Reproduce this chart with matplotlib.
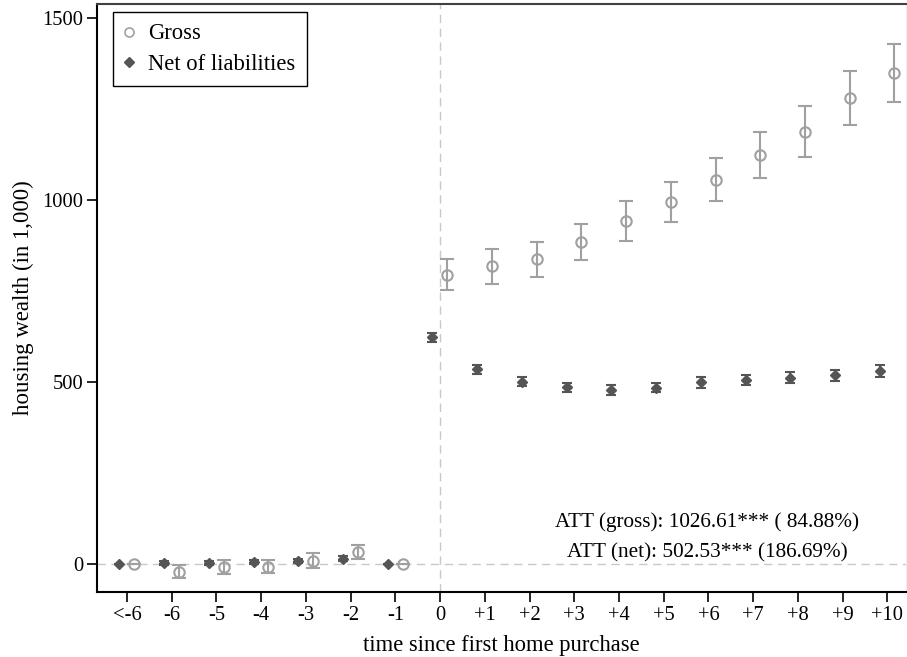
import matplotlib
matplotlib.use("Agg")
import matplotlib.pyplot as plt
from matplotlib.lines import Line2D
import numpy as np

# event time: -7 stands for "<-6"
periods = [-7, -6, -5, -4, -3, -2, -1, 0, 1, 2, 3, 4, 5, 6, 7, 8, 9, 10]
tick_labels = ["<-6", "-6", "-5", "-4", "-3", "-2", "-1", "0",
               "+1", "+2", "+3", "+4", "+5", "+6", "+7", "+8", "+9", "+10"]

gross = [0, -21, -8, -7, 9, 33, 0, 795, 818, 838, 886, 942, 995, 1056, 1124, 1189, 1281, 1351]
gross_err = [0, 18, 20, 19, 20, 20, 0, 43, 47, 48, 50, 55, 56, 59, 63, 69, 74, 80]

net = [0, 3, 3, 5, 8, 15, 0, 623, 535, 501, 486, 478, 485, 499, 506, 512, 519, 531]
net_err = [0, 5, 5, 5, 6, 6, 0, 12, 12, 12, 12, 13, 13, 14, 14, 15, 15, 16]

att_lines = ["ATT (gross): 1026.61*** ( 84.88%)", "ATT (net): 502.53*** (186.69%)"]

plt.rcParams['font.family'] = ['Liberation Serif', 'DejaVu Serif']
plt.rcParams['font.size'] = 14.8

GROSS_C = '#a0a0a0'
NET_C = '#555555'

fig = plt.figure(figsize=(9.07, 6.57), dpi=100)
ax = fig.add_axes([0.107, 0.099, 0.892, 0.895])

x = np.array(periods, dtype=float)

# reference lines
ax.axvline(0, color='#c8c8c8', linestyle=(0, (6, 4)), linewidth=1, zorder=0)
ax.axhline(0, color='#c8c8c8', linestyle=(0, (6, 4)), linewidth=1, zorder=0)

# net of liabilities (dark diamonds), shifted left
ax.errorbar(x - 0.17, net, yerr=net_err, fmt='D', color=NET_C, markersize=5.5,
            ecolor=NET_C, elinewidth=1.5, capsize=3.5, capthick=1.5, zorder=3)
# gross (hollow grey circles), shifted right
ax.errorbar(x + 0.16, gross, yerr=gross_err, fmt='o', color=GROSS_C, markersize=7.5,
            markerfacecolor='none', markeredgewidth=1.5,
            ecolor=GROSS_C, elinewidth=1.5, capsize=5, capthick=1.5, zorder=3)

ax.set_xlim(-7.67, 10.42)
ax.set_ylim(-77, 1540)
ax.set_xticks(periods)
ax.set_xticklabels(tick_labels)
ax.set_yticks([0, 500, 1000, 1500])
ax.tick_params(direction='out', length=7, width=1.2, pad=3)

ax.set_xlabel("time since first home purchase", fontsize=16.3, labelpad=7)
ax.set_ylabel("housing wealth (in 1,000)", fontsize=16.5)
ax.yaxis.set_label_coords(-0.078, 0.5)

for side in ['left', 'bottom']:
    ax.spines[side].set_linewidth(1.5)
ax.spines['top'].set_linewidth(1.5)
ax.spines['top'].set_color('#404040')
ax.spines['right'].set_color('#eeeeee')

ax.text(5.97, 116, att_lines[0], ha='center', va='center', fontsize=15.3)
ax.text(5.97, 31, att_lines[1], ha='center', va='center', fontsize=15.3)

handles = [
    Line2D([], [], linestyle='none', marker='o', markersize=6.5, markerfacecolor='none',
           markeredgecolor=GROSS_C, markeredgewidth=1.2),
    Line2D([], [], linestyle='none', marker='D', markersize=5.5, color=NET_C),
]
leg = ax.legend(handles, ["Gross", "Net of liabilities"], loc='upper left',
                bbox_to_anchor=(0.0198, 0.986), borderaxespad=0, fontsize=16.3,
                fancybox=False, edgecolor='black', framealpha=1,
                handletextpad=0.6, handlelength=0.45, borderpad=0.5,
                labelspacing=0.4)
leg.get_frame().set_linewidth(1.0)

fig.savefig("out.png", dpi=100)
